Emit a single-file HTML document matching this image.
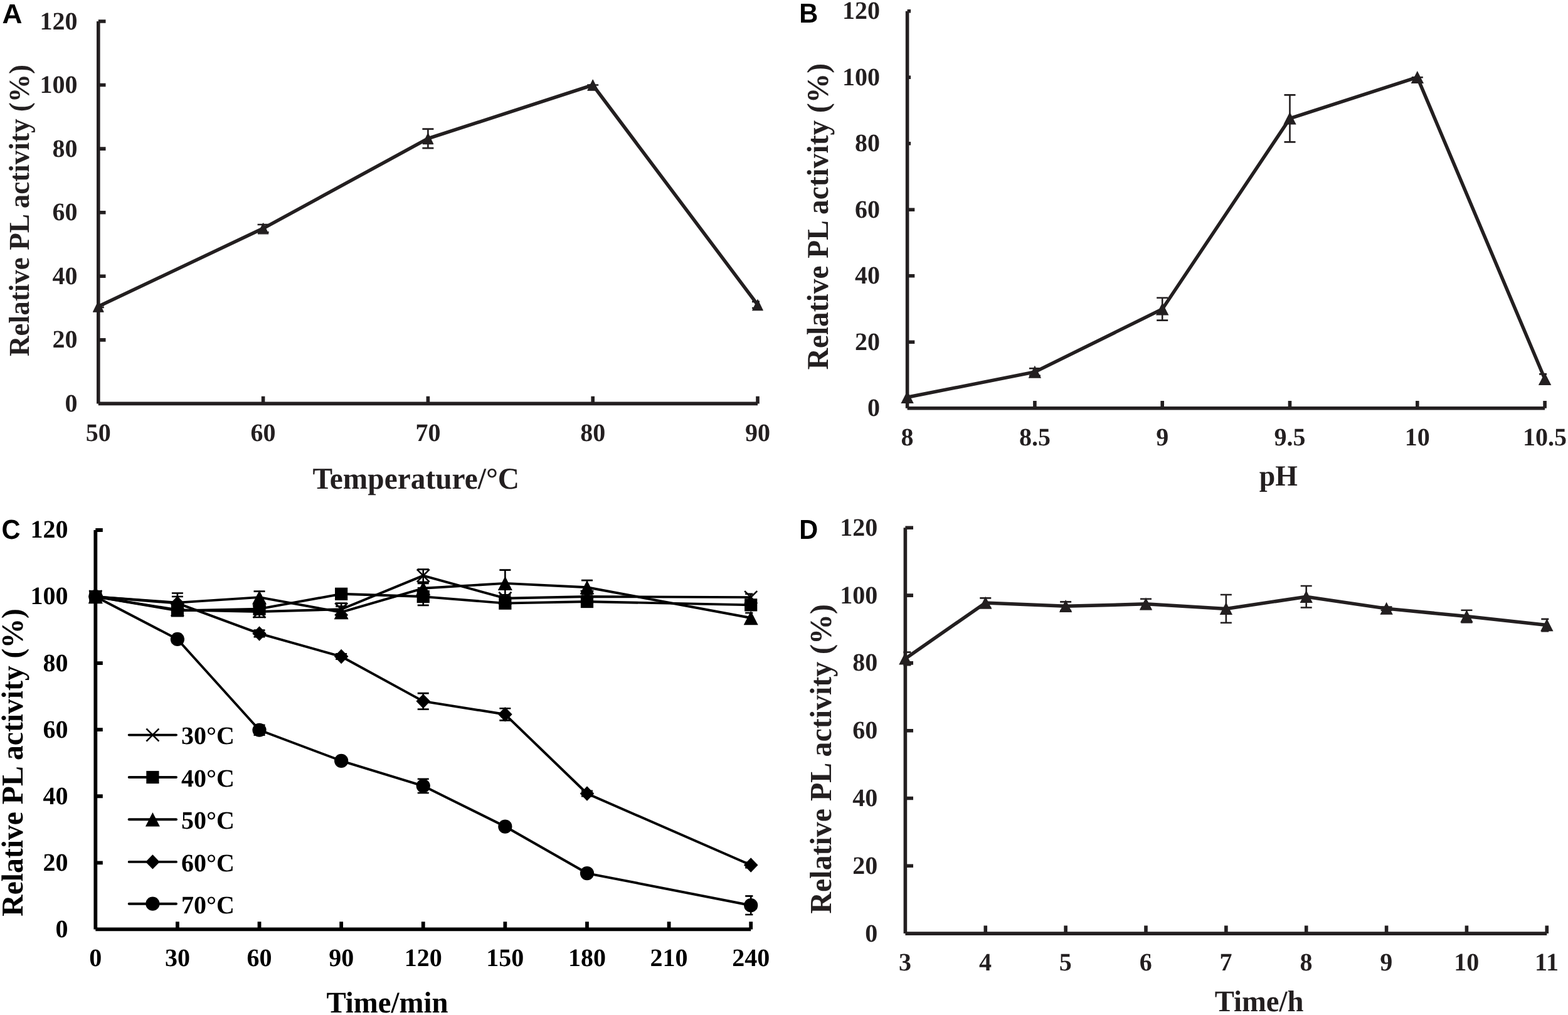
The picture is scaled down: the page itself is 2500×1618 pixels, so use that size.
<!DOCTYPE html>
<html lang="en"><head><meta charset="utf-8"><title>Relative PL activity</title>
<style>html,body{margin:0;padding:0;background:#fff}body{width:2500px;height:1618px;overflow:hidden}svg{display:block}</style>
</head><body>
<svg xmlns="http://www.w3.org/2000/svg" width="2500" height="1618" viewBox="0 0 2500 1618" text-rendering="geometricPrecision">
<rect width="2500" height="1618" fill="#fff"/>
<g id="panelA">
<g stroke="#231f20" stroke-width="5.6" fill="none">
<path d="M156.8 34V643.4"/>
<path d="M156.8 643.4H1208"/>
<path d="M156.8 541.83H168.5M156.8 440.27H168.5M156.8 338.7H168.5M156.8 237.13H168.5M156.8 135.57H168.5M156.8 34H168.5"/>
<path d="M419.6 643.4V631.8M682.4 643.4V631.8M945.2 643.4V631.8M1208 643.4V631.8"/>
</g>
<path d="M153.8 486.99H165.8M153.8 490.03H165.8M156.8 486.99V490.03" stroke="#231f20" stroke-width="2.6" fill="none"/>
<path d="M410.6 358H428.6M410.6 370.19H428.6M419.6 358V370.19" stroke="#231f20" stroke-width="2.6" fill="none"/>
<path d="M673.4 205.65H691.4M673.4 236.12H691.4M682.4 205.65V236.12" stroke="#231f20" stroke-width="2.6" fill="none"/>
<path d="M936.2 135.57H954.2M936.2 135.57H954.2M945.2 135.57V135.57" stroke="#231f20" stroke-width="2.6" fill="none"/>
<path d="M1199 480.89H1211M1199 491.05H1211M1208 480.89V491.05" stroke="#231f20" stroke-width="2.6" fill="none"/>
<polyline points="156.8,488.51 419.6,364.09 682.4,220.88 945.2,135.57 1208,485.97" fill="none" stroke="#231f20" stroke-width="5.5" stroke-linejoin="miter"/>
<polygon points="156.8,480.19 165.04,497.21 148.56,497.21" fill="#231f20" stroke="#231f20" stroke-width="1.2" stroke-linejoin="round"/>
<polygon points="419.6,355.77 427.84,372.79 411.36,372.79" fill="#231f20" stroke="#231f20" stroke-width="1.2" stroke-linejoin="round"/>
<polygon points="682.4,212.56 690.64,229.58 674.16,229.58" fill="#231f20" stroke="#231f20" stroke-width="1.2" stroke-linejoin="round"/>
<polygon points="945.2,127.24 953.44,144.27 936.96,144.27" fill="#231f20" stroke="#231f20" stroke-width="1.2" stroke-linejoin="round"/>
<polygon points="1208,477.65 1216.24,494.67 1199.76,494.67" fill="#231f20" stroke="#231f20" stroke-width="1.2" stroke-linejoin="round"/>
<g font-family="'Liberation Serif', serif" font-weight="bold" font-size="40" fill="#231f20">
<g text-anchor="end">
<text x="123.6" y="656">0</text>
<text x="123.6" y="554.43">20</text>
<text x="123.6" y="452.87">40</text>
<text x="123.6" y="351.3">60</text>
<text x="123.6" y="249.73">80</text>
<text x="123.6" y="148.17">100</text>
<text x="123.6" y="46.6">120</text>
</g>
<g text-anchor="middle">
<text x="156.8" y="702.6">50</text>
<text x="419.6" y="702.6">60</text>
<text x="682.4" y="702.6">70</text>
<text x="945.2" y="702.6">80</text>
<text x="1208" y="702.6">90</text>
</g>
</g>
<g font-family="'Liberation Serif', serif" font-weight="bold" fill="#231f20" text-anchor="middle">
<text transform="translate(663.3 778.5) scale(1 1.02)" font-size="47.4">Temperature/°C</text>
<text transform="translate(46 335.5) rotate(-90) scale(1 1.02)" font-size="45.15">Relative PL activity (%)</text>
</g>
<g font-family="'Liberation Sans', sans-serif" font-weight="bold" font-size="43.7" fill="#000"><text transform="translate(3.4 37) scale(1.015 1)">A</text></g>
</g>
<g id="panelB">
<g stroke="#231f20" stroke-width="5.6" fill="none">
<path d="M1446.6 17.7V650.7"/>
<path d="M1446.6 650.7H2463.1"/>
<path d="M1446.6 545.2H1458.3M1446.6 439.7H1458.3M1446.6 334.2H1458.3M1446.6 228.7H1452.1M1446.6 123.2H1452.1M1446.6 17.7H1452.1"/>
<path d="M1649.9 650.7V638.9M1853.2 650.7V638.9M2056.5 650.7V638.9M2259.8 650.7V638.9M2463.1 650.7V638.9"/>
</g>
<path d="M1640.9 587.19H1658.9M1640.9 598.79H1658.9M1649.9 587.19V598.79" stroke="#231f20" stroke-width="2.6" fill="none"/>
<path d="M1844.2 474.78H1862.2M1844.2 510.65H1862.2M1853.2 474.78V510.65" stroke="#231f20" stroke-width="2.6" fill="none"/>
<path d="M2047.5 151.42H2065.5M2047.5 226.33H2065.5M2056.5 151.42V226.33" stroke="#231f20" stroke-width="2.6" fill="none"/>
<path d="M2250.8 123.2H2268.8M2250.8 123.2H2268.8M2259.8 123.2V123.2" stroke="#231f20" stroke-width="2.6" fill="none"/>
<path d="M2454.1 596.37H2466.1M2454.1 612.19H2466.1M2463.1 596.37V612.19" stroke="#231f20" stroke-width="2.6" fill="none"/>
<polyline points="1446.6,633.29 1649.9,592.99 1853.2,492.71 2056.5,188.87 2259.8,123.2 2463.1,604.28" fill="none" stroke="#231f20" stroke-width="5.5" stroke-linejoin="miter"/>
<polygon points="1446.6,622.99 1456.8,642.99 1436.4,642.99" fill="#231f20"/>
<polygon points="1649.9,582.69 1660.1,602.69 1639.7,602.69" fill="#231f20"/>
<polygon points="1853.2,482.41 1863.4,502.41 1843,502.41" fill="#231f20"/>
<polygon points="2056.5,178.57 2066.7,198.57 2046.3,198.57" fill="#231f20"/>
<polygon points="2259.8,112.9 2270,132.9 2249.6,132.9" fill="#231f20"/>
<polygon points="2463.1,593.98 2473.3,613.98 2452.9,613.98" fill="#231f20"/>
<g font-family="'Liberation Serif', serif" font-weight="bold" font-size="40" fill="#231f20">
<g text-anchor="end">
<text x="1403.1" y="663.3">0</text>
<text x="1403.1" y="557.8">20</text>
<text x="1403.1" y="452.3">40</text>
<text x="1403.1" y="346.8">60</text>
<text x="1403.1" y="241.3">80</text>
<text x="1403.1" y="135.8">100</text>
<text x="1403.1" y="30.3">120</text>
</g>
<g text-anchor="middle">
<text x="1446.6" y="709.6">8</text>
<text x="1649.9" y="709.6">8.5</text>
<text x="1853.2" y="709.6">9</text>
<text x="2056.5" y="709.6">9.5</text>
<text x="2259.8" y="709.6">10</text>
<text x="2463.1" y="709.6">10.5</text>
</g>
</g>
<g font-family="'Liberation Serif', serif" font-weight="bold" fill="#231f20" text-anchor="middle">
<text transform="translate(2038.4 773.5) scale(1 1.02)" font-size="45.8">pH</text>
<text transform="translate(1320.3 345.2) rotate(-90) scale(1 1.02)" font-size="47.4">Relative PL activity (%)</text>
</g>
<g font-family="'Liberation Sans', sans-serif" font-weight="bold" font-size="43.7" fill="#000"><text transform="translate(1274.35 36.1) scale(0.95 1)">B</text></g>
</g>
<g id="panelC">
<g stroke="#000000" stroke-width="5.8" fill="none">
<path d="M152.3 845V1481.4"/>
<path d="M152.3 1481.4H1197.2"/>
<path d="M152.3 1375.33H163.8M152.3 1269.27H163.8M152.3 1163.2H163.8M152.3 1057.13H163.8M152.3 951.07H163.8M152.3 845H163.8"/>
<path d="M282.91 1481.4V1469.2M413.53 1481.4V1469.2M544.14 1481.4V1469.2M674.75 1481.4V1469.2M805.36 1481.4V1469.2M935.98 1481.4V1469.2M1066.59 1481.4V1469.2M1197.2 1481.4V1469.2"/>
</g>
<path d="M149.3 948.41H161.3M149.3 953.72H161.3M152.3 948.41V953.72" stroke="#000000" stroke-width="2.6" fill="none"/>
<path d="M273.91 964.33H291.91M273.91 980.24H291.91M282.91 964.33V980.24" stroke="#000000" stroke-width="2.6" fill="none"/>
<path d="M404.53 965.92H422.53M404.53 983.95H422.53M413.53 965.92V983.95" stroke="#000000" stroke-width="2.6" fill="none"/>
<path d="M535.14 961.67H553.14M535.14 980.77H553.14M544.14 961.67V980.77" stroke="#000000" stroke-width="2.6" fill="none"/>
<path d="M665.75 907.58H683.75M665.75 927.73H683.75M674.75 907.58V927.73" stroke="#000000" stroke-width="2.6" fill="none"/>
<path d="M796.36 948.41H814.36M796.36 959.02H814.36M805.36 948.41V959.02" stroke="#000000" stroke-width="2.6" fill="none"/>
<path d="M926.98 946.82H944.98M926.98 955.31H944.98M935.98 946.82V955.31" stroke="#000000" stroke-width="2.6" fill="none"/>
<path d="M1188.2 946.82H1200.4M1188.2 957.43H1200.4M1197.2 946.82V957.43" stroke="#000000" stroke-width="2.6" fill="none"/>
<polyline points="152.3,951.07 282.91,972.28 413.53,974.93 544.14,971.22 674.75,917.66 805.36,953.72 935.98,951.07 1197.2,952.13" fill="none" stroke="#000000" stroke-width="3.9" stroke-linejoin="round" stroke-linecap="round"/>
<path d="M142.3 941.07L162.3 961.07M142.3 961.07L162.3 941.07" stroke="#000000" stroke-width="2.6" fill="none"/>
<path d="M272.91 962.28L292.91 982.28M272.91 982.28L292.91 962.28" stroke="#000000" stroke-width="2.6" fill="none"/>
<path d="M403.53 964.93L423.53 984.93M403.53 984.93L423.53 964.93" stroke="#000000" stroke-width="2.6" fill="none"/>
<path d="M534.14 961.22L554.14 981.22M534.14 981.22L554.14 961.22" stroke="#000000" stroke-width="2.6" fill="none"/>
<path d="M664.75 907.66L684.75 927.66M664.75 927.66L684.75 907.66" stroke="#000000" stroke-width="2.6" fill="none"/>
<path d="M795.36 943.72L815.36 963.72M795.36 963.72L815.36 943.72" stroke="#000000" stroke-width="2.6" fill="none"/>
<path d="M925.98 941.07L945.98 961.07M925.98 961.07L945.98 941.07" stroke="#000000" stroke-width="2.6" fill="none"/>
<path d="M1187.2 942.13L1207.2 962.13M1187.2 962.13L1207.2 942.13" stroke="#000000" stroke-width="2.6" fill="none"/>
<path d="M149.3 948.41H161.3M149.3 953.72H161.3M152.3 948.41V953.72" stroke="#000000" stroke-width="2.6" fill="none"/>
<path d="M273.91 965.39H291.91M273.91 981.3H291.91M282.91 965.39V981.3" stroke="#000000" stroke-width="2.6" fill="none"/>
<path d="M404.53 962.73H422.53M404.53 978.64H422.53M413.53 962.73V978.64" stroke="#000000" stroke-width="2.6" fill="none"/>
<path d="M535.14 941.52H553.14M535.14 952.13H553.14M544.14 941.52V952.13" stroke="#000000" stroke-width="2.6" fill="none"/>
<path d="M665.75 937.28H683.75M665.75 964.86H683.75M674.75 937.28V964.86" stroke="#000000" stroke-width="2.6" fill="none"/>
<path d="M796.36 956.37H814.36M796.36 966.98H814.36M805.36 956.37V966.98" stroke="#000000" stroke-width="2.6" fill="none"/>
<path d="M926.98 954.78H944.98M926.98 963.26H944.98M935.98 954.78V963.26" stroke="#000000" stroke-width="2.6" fill="none"/>
<path d="M1188.2 956.37H1200.4M1188.2 972.28H1200.4M1197.2 956.37V972.28" stroke="#000000" stroke-width="2.6" fill="none"/>
<polyline points="152.3,951.07 282.91,973.34 413.53,970.69 544.14,946.82 674.75,951.07 805.36,961.67 935.98,959.02 1197.2,964.33" fill="none" stroke="#000000" stroke-width="3.9" stroke-linejoin="round" stroke-linecap="round"/>
<rect x="142.2" y="940.97" width="20.2" height="20.2" fill="#000000"/>
<rect x="272.81" y="963.24" width="20.2" height="20.2" fill="#000000"/>
<rect x="403.43" y="960.59" width="20.2" height="20.2" fill="#000000"/>
<rect x="534.04" y="936.72" width="20.2" height="20.2" fill="#000000"/>
<rect x="664.65" y="940.97" width="20.2" height="20.2" fill="#000000"/>
<rect x="795.26" y="951.57" width="20.2" height="20.2" fill="#000000"/>
<rect x="925.88" y="948.92" width="20.2" height="20.2" fill="#000000"/>
<rect x="1187.1" y="954.23" width="20.2" height="20.2" fill="#000000"/>
<path d="M149.3 948.41H161.3M149.3 953.72H161.3M152.3 948.41V953.72" stroke="#000000" stroke-width="2.6" fill="none"/>
<path d="M273.91 945.5H291.91M273.91 975.73H291.91M282.91 945.5V975.73" stroke="#000000" stroke-width="2.6" fill="none"/>
<path d="M404.53 942.58H422.53M404.53 961.67H422.53M413.53 942.58V961.67" stroke="#000000" stroke-width="2.6" fill="none"/>
<path d="M535.14 966.45H553.14M535.14 985.54H553.14M544.14 966.45V985.54" stroke="#000000" stroke-width="2.6" fill="none"/>
<path d="M665.75 929.85H683.75M665.75 945.76H683.75M674.75 929.85V945.76" stroke="#000000" stroke-width="2.6" fill="none"/>
<path d="M796.36 908.64H814.36M796.36 951.07H814.36M805.36 908.64V951.07" stroke="#000000" stroke-width="2.6" fill="none"/>
<path d="M926.98 925.08H944.98M926.98 947.35H944.98M935.98 925.08V947.35" stroke="#000000" stroke-width="2.6" fill="none"/>
<path d="M1188.2 977.05H1200.4M1188.2 992.96H1200.4M1197.2 977.05V992.96" stroke="#000000" stroke-width="2.6" fill="none"/>
<polyline points="152.3,951.07 282.91,960.61 413.53,952.13 544.14,975.99 674.75,937.81 805.36,929.85 935.98,936.22 1197.2,985.01" fill="none" stroke="#000000" stroke-width="3.9" stroke-linejoin="round" stroke-linecap="round"/>
<polygon points="152.3,939.82 163.8,962.32 140.8,962.32" fill="#000000"/>
<polygon points="282.91,949.36 294.41,971.86 271.41,971.86" fill="#000000"/>
<polygon points="413.53,940.88 425.03,963.38 402.03,963.38" fill="#000000"/>
<polygon points="544.14,964.74 555.64,987.24 532.64,987.24" fill="#000000"/>
<polygon points="674.75,926.56 686.25,949.06 663.25,949.06" fill="#000000"/>
<polygon points="805.36,918.6 816.86,941.1 793.86,941.1" fill="#000000"/>
<polygon points="935.98,924.97 947.48,947.47 924.48,947.47" fill="#000000"/>
<polygon points="1197.2,973.76 1208.7,996.26 1185.7,996.26" fill="#000000"/>
<path d="M149.3 948.41H161.3M149.3 953.72H161.3M152.3 948.41V953.72" stroke="#000000" stroke-width="2.6" fill="none"/>
<path d="M273.91 951.07H291.91M273.91 972.28H291.91M282.91 951.07V972.28" stroke="#000000" stroke-width="2.6" fill="none"/>
<path d="M404.53 1004.63H422.53M404.53 1015.24H422.53M413.53 1004.63V1015.24" stroke="#000000" stroke-width="2.6" fill="none"/>
<path d="M535.14 1042.28H553.14M535.14 1050.77H553.14M544.14 1042.28V1050.77" stroke="#000000" stroke-width="2.6" fill="none"/>
<path d="M665.75 1105.13H683.75M665.75 1130.58H683.75M674.75 1105.13V1130.58" stroke="#000000" stroke-width="2.6" fill="none"/>
<path d="M796.36 1129.26H814.36M796.36 1148.35H814.36M805.36 1129.26V1148.35" stroke="#000000" stroke-width="2.6" fill="none"/>
<path d="M926.98 1260.78H944.98M926.98 1269.27H944.98M935.98 1260.78V1269.27" stroke="#000000" stroke-width="2.6" fill="none"/>
<path d="M1188.2 1374.8H1200.4M1188.2 1383.29H1200.4M1197.2 1374.8V1383.29" stroke="#000000" stroke-width="2.6" fill="none"/>
<polyline points="152.3,951.07 282.91,961.67 413.53,1009.93 544.14,1046.53 674.75,1117.86 805.36,1138.8 935.98,1265.02 1197.2,1379.05" fill="none" stroke="#000000" stroke-width="3.9" stroke-linejoin="round" stroke-linecap="round"/>
<polygon points="152.3,939.37 163.6,951.07 152.3,962.77 141,951.07" fill="#000000"/>
<polygon points="282.91,949.97 294.21,961.67 282.91,973.37 271.61,961.67" fill="#000000"/>
<polygon points="413.53,998.23 424.83,1009.93 413.53,1021.63 402.23,1009.93" fill="#000000"/>
<polygon points="544.14,1034.83 555.44,1046.53 544.14,1058.23 532.84,1046.53" fill="#000000"/>
<polygon points="674.75,1106.16 686.05,1117.86 674.75,1129.56 663.45,1117.86" fill="#000000"/>
<polygon points="805.36,1127.1 816.66,1138.8 805.36,1150.5 794.06,1138.8" fill="#000000"/>
<polygon points="935.98,1253.32 947.28,1265.02 935.98,1276.72 924.68,1265.02" fill="#000000"/>
<polygon points="1197.2,1367.35 1208.5,1379.05 1197.2,1390.75 1185.9,1379.05" fill="#000000"/>
<path d="M149.3 948.41H161.3M149.3 953.72H161.3M152.3 948.41V953.72" stroke="#000000" stroke-width="2.6" fill="none"/>
<path d="M273.91 1013.65H291.91M273.91 1024.25H291.91M282.91 1013.65V1024.25" stroke="#000000" stroke-width="2.6" fill="none"/>
<path d="M404.53 1155.78H422.53M404.53 1171.69H422.53M413.53 1155.78V1171.69" stroke="#000000" stroke-width="2.6" fill="none"/>
<path d="M535.14 1207.48H553.14M535.14 1218.09H553.14M544.14 1207.48V1218.09" stroke="#000000" stroke-width="2.6" fill="none"/>
<path d="M665.75 1241.69H683.75M665.75 1263.96H683.75M674.75 1241.69V1263.96" stroke="#000000" stroke-width="2.6" fill="none"/>
<path d="M796.36 1312.22H814.36M796.36 1322.83H814.36M805.36 1312.22V1322.83" stroke="#000000" stroke-width="2.6" fill="none"/>
<path d="M926.98 1386.74H944.98M926.98 1397.34H944.98M935.98 1386.74V1397.34" stroke="#000000" stroke-width="2.6" fill="none"/>
<path d="M1188.2 1428.37H1200.4M1188.2 1458.07H1200.4M1197.2 1428.37V1458.07" stroke="#000000" stroke-width="2.6" fill="none"/>
<polyline points="152.3,951.07 282.91,1018.95 413.53,1163.73 544.14,1212.79 674.75,1252.83 805.36,1317.53 935.98,1392.04 1197.2,1443.22" fill="none" stroke="#000000" stroke-width="3.9" stroke-linejoin="round" stroke-linecap="round"/>
<circle cx="152.3" cy="951.07" r="11.1" fill="#000000"/>
<circle cx="282.91" cy="1018.95" r="11.1" fill="#000000"/>
<circle cx="413.53" cy="1163.73" r="11.1" fill="#000000"/>
<circle cx="544.14" cy="1212.79" r="11.1" fill="#000000"/>
<circle cx="674.75" cy="1252.83" r="11.1" fill="#000000"/>
<circle cx="805.36" cy="1317.53" r="11.1" fill="#000000"/>
<circle cx="935.98" cy="1392.04" r="11.1" fill="#000000"/>
<circle cx="1197.2" cy="1443.22" r="11.1" fill="#000000"/>
<g font-family="'Liberation Serif', serif" font-weight="bold" font-size="40" fill="#000">
<path d="M205.7 1171.6H281" stroke="#000" stroke-width="3.9" stroke-linecap="round" fill="none"/>
<path d="M233.4 1161.6L253.4 1181.6M233.4 1181.6L253.4 1161.6" stroke="#000000" stroke-width="2.6" fill="none"/>
<text x="289" y="1186.4">30°C</text>
<path d="M205.7 1239H281" stroke="#000" stroke-width="3.9" stroke-linecap="round" fill="none"/>
<rect x="233.3" y="1228.9" width="20.2" height="20.2" fill="#000000"/>
<text x="289" y="1253.8">40°C</text>
<path d="M205.7 1306.3H281" stroke="#000" stroke-width="3.9" stroke-linecap="round" fill="none"/>
<polygon points="243.4,1295.05 254.9,1317.55 231.9,1317.55" fill="#000000"/>
<text x="289" y="1321.1">50°C</text>
<path d="M205.7 1373.9H281" stroke="#000" stroke-width="3.9" stroke-linecap="round" fill="none"/>
<polygon points="243.4,1362.2 254.7,1373.9 243.4,1385.6 232.1,1373.9" fill="#000000"/>
<text x="289" y="1388.7">60°C</text>
<path d="M205.7 1440.7H281" stroke="#000" stroke-width="3.9" stroke-linecap="round" fill="none"/>
<circle cx="243.4" cy="1440.7" r="11.1" fill="#000000"/>
<text x="289" y="1455.5">70°C</text>
</g>
<g font-family="'Liberation Serif', serif" font-weight="bold" font-size="40" fill="#000000">
<g text-anchor="end">
<text x="108.4" y="1493.8">0</text>
<text x="108.4" y="1387.73">20</text>
<text x="108.4" y="1281.67">40</text>
<text x="108.4" y="1175.6">60</text>
<text x="108.4" y="1069.53">80</text>
<text x="108.4" y="963.47">100</text>
<text x="108.4" y="857.4">120</text>
</g>
<g text-anchor="middle">
<text x="152.3" y="1539.8">0</text>
<text x="282.91" y="1539.8">30</text>
<text x="413.53" y="1539.8">60</text>
<text x="544.14" y="1539.8">90</text>
<text x="674.75" y="1539.8">120</text>
<text x="805.36" y="1539.8">150</text>
<text x="935.98" y="1539.8">180</text>
<text x="1066.59" y="1539.8">210</text>
<text x="1197.2" y="1539.8">240</text>
</g>
</g>
<g font-family="'Liberation Serif', serif" font-weight="bold" fill="#000000" text-anchor="middle">
<text transform="translate(617.5 1613.6) scale(1 1.02)" font-size="46.8">Time/min</text>
<text transform="translate(35.8 1215.4) rotate(-90) scale(1 1.02)" font-size="47.64">Relative PL activity (%)</text>
</g>
<g font-family="'Liberation Sans', sans-serif" font-weight="bold" font-size="43.7" fill="#000"><text transform="translate(2.45 859.3) scale(0.953 1)">C</text></g>
</g>
<g id="panelD">
<g stroke="#231f20" stroke-width="5.6" fill="none">
<path d="M1443.4 841.3V1488.1"/>
<path d="M1443.4 1488.1H2466.3"/>
<path d="M1443.4 1380.3H1456M1443.4 1272.5H1456M1443.4 1164.7H1456M1443.4 1056.9H1456M1443.4 949.1H1456M1443.4 841.3H1456"/>
<path d="M1571.26 1488.1V1475.5M1699.12 1488.1V1475.5M1826.99 1488.1V1475.5M1954.85 1488.1V1475.5M2082.71 1488.1V1475.5M2210.58 1488.1V1475.5M2338.44 1488.1V1475.5M2466.3 1488.1V1475.5"/>
</g>
<path d="M1440.4 1039.65H1452.4M1440.4 1060.13H1452.4M1443.4 1039.65V1060.13" stroke="#231f20" stroke-width="2.6" fill="none"/>
<path d="M1562.26 953.41H1580.26M1562.26 968.5H1580.26M1571.26 953.41V968.5" stroke="#231f20" stroke-width="2.6" fill="none"/>
<path d="M1690.12 959.34H1708.12M1690.12 973.36H1708.12M1699.12 959.34V973.36" stroke="#231f20" stroke-width="2.6" fill="none"/>
<path d="M1817.99 954.76H1835.99M1817.99 970.93H1835.99M1826.99 954.76V970.93" stroke="#231f20" stroke-width="2.6" fill="none"/>
<path d="M1945.85 948.02H1963.85M1945.85 992.76H1963.85M1954.85 948.02V992.76" stroke="#231f20" stroke-width="2.6" fill="none"/>
<path d="M2073.71 934.01H2091.71M2073.71 968.5H2091.71M2082.71 934.01V968.5" stroke="#231f20" stroke-width="2.6" fill="none"/>
<path d="M2201.58 967.43H2219.58M2201.58 972.82H2219.58M2210.58 967.43V972.82" stroke="#231f20" stroke-width="2.6" fill="none"/>
<path d="M2329.44 972.82H2347.44M2329.44 992.22H2347.44M2338.44 972.82V992.22" stroke="#231f20" stroke-width="2.6" fill="none"/>
<path d="M2457.3 986.83H2469.3M2457.3 1006.23H2469.3M2466.3 986.83V1006.23" stroke="#231f20" stroke-width="2.6" fill="none"/>
<polyline points="1443.4,1049.89 1571.26,960.96 1699.12,966.35 1826.99,962.84 1954.85,970.39 2082.71,951.26 2210.58,970.12 2338.44,982.52 2466.3,996.53" fill="none" stroke="#231f20" stroke-width="5.5" stroke-linejoin="miter"/>
<polygon points="1443.4,1039.59 1453.6,1059.59 1433.2,1059.59" fill="#231f20"/>
<polygon points="1571.26,950.66 1581.46,970.66 1561.06,970.66" fill="#231f20"/>
<polygon points="1699.12,956.05 1709.33,976.05 1688.92,976.05" fill="#231f20"/>
<polygon points="1826.99,952.54 1837.19,972.54 1816.79,972.54" fill="#231f20"/>
<polygon points="1954.85,960.09 1965.05,980.09 1944.65,980.09" fill="#231f20"/>
<polygon points="2082.71,940.96 2092.91,960.96 2072.51,960.96" fill="#231f20"/>
<polygon points="2210.58,959.82 2220.78,979.82 2200.38,979.82" fill="#231f20"/>
<polygon points="2338.44,972.22 2348.64,992.22 2328.24,992.22" fill="#231f20"/>
<polygon points="2466.3,986.23 2476.5,1006.23 2456.1,1006.23" fill="#231f20"/>
<g font-family="'Liberation Serif', serif" font-weight="bold" font-size="40" fill="#231f20">
<g text-anchor="end">
<text x="1399.3" y="1500.6">0</text>
<text x="1399.3" y="1392.8">20</text>
<text x="1399.3" y="1285">40</text>
<text x="1399.3" y="1177.2">60</text>
<text x="1399.3" y="1069.4">80</text>
<text x="1399.3" y="961.6">100</text>
<text x="1399.3" y="853.8">120</text>
</g>
<g text-anchor="middle">
<text x="1443.1" y="1547.2">3</text>
<text x="1570.96" y="1547.2">4</text>
<text x="1698.83" y="1547.2">5</text>
<text x="1826.69" y="1547.2">6</text>
<text x="1954.55" y="1547.2">7</text>
<text x="2082.41" y="1547.2">8</text>
<text x="2210.28" y="1547.2">9</text>
<text x="2338.14" y="1547.2">10</text>
<text x="2466" y="1547.2">11</text>
</g>
</g>
<g font-family="'Liberation Serif', serif" font-weight="bold" fill="#231f20" text-anchor="middle">
<text transform="translate(2007.6 1612.3) scale(1 1.02)" font-size="46.7">Time/h</text>
<text transform="translate(1325 1209.8) rotate(-90) scale(1 1.02)" font-size="47.9">Relative PL activity (%)</text>
</g>
<g font-family="'Liberation Sans', sans-serif" font-weight="bold" font-size="43.7" fill="#000"><text transform="translate(1274.35 858.9) scale(0.95 1)">D</text></g>
</g>
</svg>
</body></html>
